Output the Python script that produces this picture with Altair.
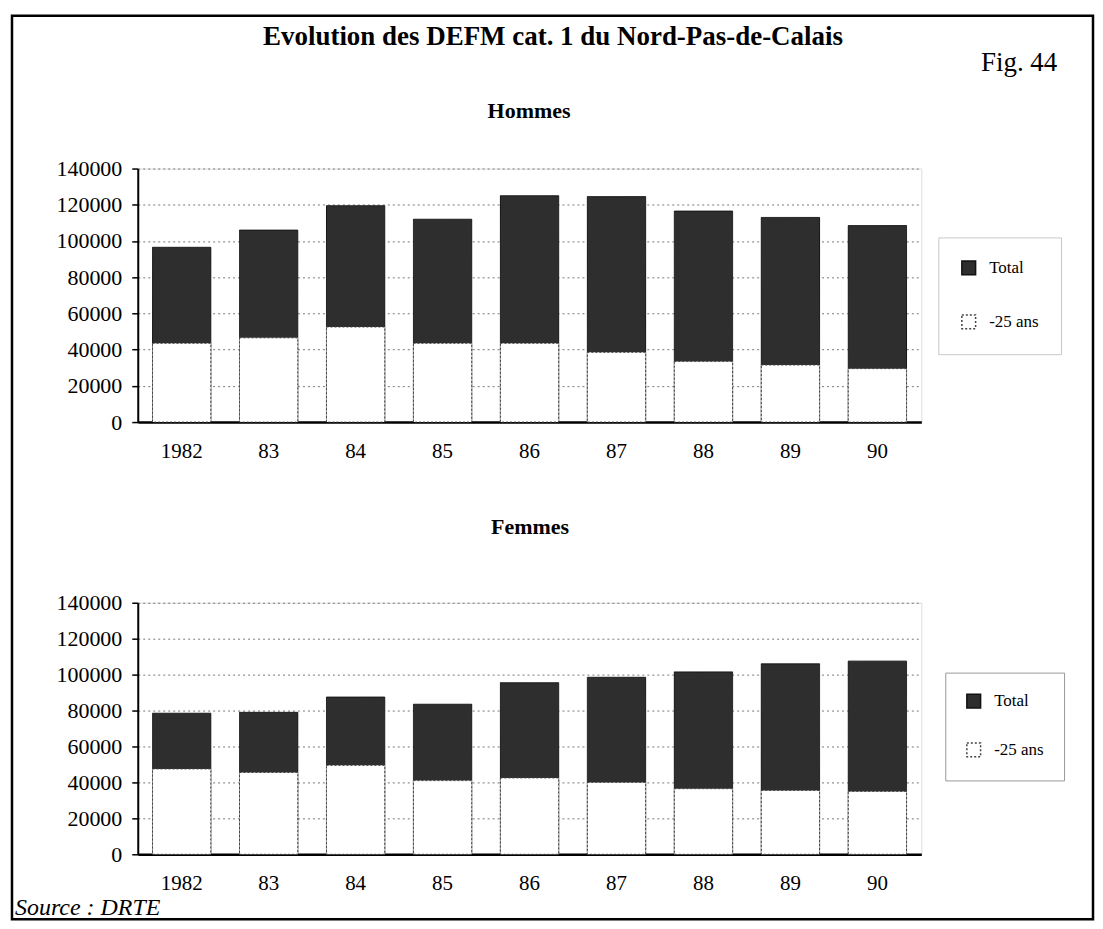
import altair as alt
import pandas as pd

years = ["1982", "83", "84", "85", "86", "87", "88", "89", "90"]
hommes_total = [96500, 106000, 119500, 112000, 125000, 124500, 116500, 113000, 108500]
hommes_moins25 = [43500, 46500, 52500, 43500, 43500, 38500, 33500, 31500, 29500]
femmes_total = [78500, 79000, 87500, 83500, 95500, 98500, 101500, 106000, 107500]
femmes_moins25 = [47500, 45500, 49500, 41000, 42500, 40000, 36500, 35500, 35000]
series = ["Total", "-25 ans"]
y_ticks = [0, 20000, 40000, 60000, 80000, 100000, 120000, 140000]

main_title = "Evolution des DEFM cat. 1 du Nord-Pas-de-Calais"
fig_label = "Fig. 44"
panel_titles = ["Hommes", "Femmes"]
source_text = "Source : DRTE"

FONT = "Liberation Serif"
W, H1, H2 = 785, 254, 252


def long_df(total, moins25):
    rows = []
    for y, v in zip(years, total):
        rows.append({"annee": y, "serie": "Total", "valeur": v})
    for y, v in zip(years, moins25):
        rows.append({"annee": y, "serie": "-25 ans", "valeur": v})
    return pd.DataFrame(rows)


def text_layer(txt, x, y, size, weight="normal", style="normal", align="center"):
    return alt.Chart(pd.DataFrame({"t": [txt]})).mark_text(
        font=FONT, fontSize=size, fontWeight=weight, fontStyle=style,
        align=align, baseline="middle", color="black"
    ).encode(x=alt.value(x), y=alt.value(y), text="t:N")


def bars(df, lx, ly, pad, rowpad, label_pad, box_color):
    return alt.Chart(df).mark_bar(strokeWidth=1).encode(
        x=alt.X("annee:N", sort=years, title=None,
                scale=alt.Scale(paddingInner=0.33, paddingOuter=0.17),
                axis=alt.Axis(labelAngle=0, ticks=False, grid=False,
                              domainColor="black", domainWidth=2.5,
                              labelFont=FONT, labelFontSize=21, labelColor="black",
                              labelPadding=label_pad)),
        y=alt.Y("valeur:Q", stack=None, title=None,
                scale=alt.Scale(domain=[0, 140000], nice=False),
                axis=alt.Axis(values=y_ticks, format="d", domainColor="black",
                              domainWidth=2, tickColor="black", tickWidth=1.5,
                              tickSize=6, labelPadding=10, labelFont=FONT,
                              labelFontSize=22, labelColor="black",
                              gridColor="#777", gridDash=[2, 3], gridWidth=1)),
        color=alt.Color("serie:N", sort=series,
                        scale=alt.Scale(domain=series, range=["#2e2e2e", "#ffffff"]),
                        legend=alt.Legend(title=None, orient="none", legendX=lx, legendY=ly,
                                          symbolType="square", symbolSize=190,
                                          labelFont=FONT, labelFontSize=17,
                                          labelColor="black", labelOffset=12,
                                          padding=pad, rowPadding=rowpad,
                                          strokeColor=box_color, fillColor="white")),
        stroke=alt.Stroke("serie:N", sort=series,
                          scale=alt.Scale(domain=series, range=["#111111", "#444444"]),
                          legend=alt.Legend(title=None, orient="none", legendX=lx, legendY=ly)),
        strokeDash=alt.StrokeDash("serie:N", sort=series,
                                  scale=alt.Scale(domain=series, range=[[1, 0], [2, 2]]),
                                  legend=alt.Legend(title=None, orient="none", legendX=lx, legendY=ly)),
        order=alt.Order("serie:N", sort="descending"),
    )


top_bars = bars(long_df(hommes_total, hommes_moins25), 802, 69, 22, 33, 18, "#c8c8c8")
bottom_bars = bars(long_df(femmes_total, femmes_moins25), 809, 70, 20, 28, 18, "#999")

frame = alt.Chart(pd.DataFrame({"a": [0]})).mark_rect(
    fill="transparent", stroke="black", strokeWidth=2.5
).encode(x=alt.value(-126), x2=alt.value(957), y=alt.value(-153), y2=alt.value(752))

top = alt.layer(
    top_bars,
    text_layer(main_title, 416, -132, 27, weight="bold"),
    text_layer(fig_label, 883, -106, 27),
    text_layer(panel_titles[0], 392, -58, 22, weight="bold"),
    frame,
).properties(width=W, height=H1)

bottom = alt.layer(
    bottom_bars,
    text_layer(panel_titles[1], 393, -76, 22, weight="bold"),
    text_layer(source_text, -123, 306, 24, style="italic", align="left"),
).properties(width=W, height=H2)

chart = alt.vconcat(top, bottom, spacing=181, bounds="flush").resolve_scale(
    color="independent", stroke="independent", strokeDash="independent"
).resolve_legend(
    color="independent", stroke="independent", strokeDash="independent"
).properties(
    padding={"left": 2, "top": 5, "right": 0, "bottom": 0}
).configure_view(
    stroke="#999", strokeDash=[2, 3]
).configure(background="white")

chart.save("out.html", embed_options={"renderer": "svg", "actions": False})
